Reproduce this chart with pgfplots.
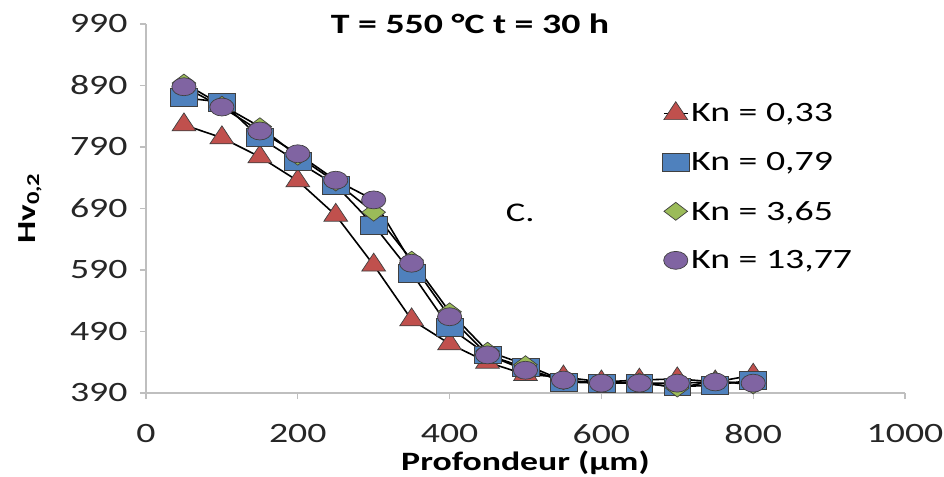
\documentclass[border=0pt]{standalone}
\usepackage{fontspec}
\setmainfont{Carlito}[FakeStretch=1.35]
\usepackage{pgfplots}
\pgfplotsset{compat=1.18}
\definecolor{xred}{HTML}{C0504D}
\definecolor{xblue}{HTML}{4F81BD}
\definecolor{xgreen}{HTML}{9BBB59}
\definecolor{xpurple}{HTML}{8064A2}
\begin{document}
\begin{tikzpicture}
\begin{axis}[
  at={(0,0)}, anchor=south west,
  scale only axis, width=759bp, height=369bp,
  xmin=0, xmax=1000, ymin=390, ymax=990,
  xtick={0,200,400,600,800,1000}, ytick={390,490,590,690,790,890,990},
  axis lines*=left,
  axis line style={draw=black!25, line width=1.2bp},
  major tick style={draw=black!25, line width=1.2bp},
  tick align=outside, major tick length=6bp,
  /pgf/number format/assume math mode=true,
  /pgf/number format/set thousands separator={},
  ticklabel style={font=\fontsize{28bp}{32bp}\selectfont, text=black!85},
  xticklabel style={yshift=-22bp},
  yticklabel style={xshift=-9bp},
  xlabel={\bfseries Profondeur (µm)},
  ylabel={\bfseries Hv\textsubscript{0,2}},
  every axis x label/.style={at={(axis description cs:0.5,0)}, yshift=-70bp, anchor=center, font=\fontsize{26.5bp}{30bp}\selectfont},
  every axis y label/.style={at={(axis description cs:0,0.5)}, xshift=-116bp, rotate=90, anchor=center, font=\fontsize{26bp}{30bp}\selectfont},
  legend style={at={(rel axis cs:0.68,0.79)}, anchor=north west, draw=none, fill=none,
    font=\fontsize{28bp}{32bp}\selectfont, row sep=25bp, inner sep=0pt},
  legend cell align=left,
  legend image code/.code={\draw[mark repeat=2,mark phase=2,#1] plot coordinates {(0bp,0bp) (12bp,0bp) (24bp,0bp)};},
  clip=false,
]
\addplot[black, line width=1.6bp, mark=triangle*, mark size=12, mark options={fill=xred, draw=black!75, line width=0.7bp, xscale=1.15, solid}]
coordinates {(50,826) (100,805) (150,774) (200,735) (250,679) (300,598) (350,509) (400,470) (450,440) (500,420) (550,416) (600,408) (650,411) (700,413) (750,408) (800,419)};
\addlegendentry{Kn = 0,33}
\addplot[black, line width=1.6bp, mark=square*, mark size=9, mark options={fill=xblue, draw=black!75, line width=0.7bp, xscale=1.5, solid}]
coordinates {(50,870) (100,863) (150,805) (200,766) (250,728) (300,663) (350,585) (400,496) (450,452) (500,431) (550,408) (600,406) (650,406) (700,400) (750,403) (800,411)};
\addlegendentry{Kn = 0,79}
\addplot[black, line width=1.6bp, mark=diamond*, mark size=9, mark options={fill=xgreen, draw=black!75, line width=0.7bp, xscale=1.75, solid}]
coordinates {(50,894) (100,858) (150,823) (200,775) (250,733) (300,684) (350,606) (400,522) (450,458) (500,436) (550,410) (600,406) (650,408) (700,398) (750,410) (800,403)};
\addlegendentry{Kn = 3,65}
\addplot[black, line width=1.6bp, mark=*, mark size=9, mark options={fill=xpurple, draw=black!75, line width=0.7bp, xscale=1.35, solid}]
coordinates {(50,888) (100,855) (150,816) (200,779) (250,736) (300,704) (350,601) (400,514) (450,452) (500,427) (550,411) (600,406) (650,406) (700,406) (750,408) (800,406)};
\addlegendentry{Kn = 13,77}
\node[font=\bfseries\fontsize{28bp}{32bp}\selectfont, anchor=center] at (rel axis cs:0.427,1) {T = 550 °C t = 30 h};
\node[font=\fontsize{27bp}{31bp}\selectfont, anchor=center] at (axis cs:493,683) {C.};
\end{axis}
\pgfresetboundingbox
\path[use as bounding box] (-146bp,-84bp) rectangle (798bp,393bp);
\end{tikzpicture}
\end{document}
